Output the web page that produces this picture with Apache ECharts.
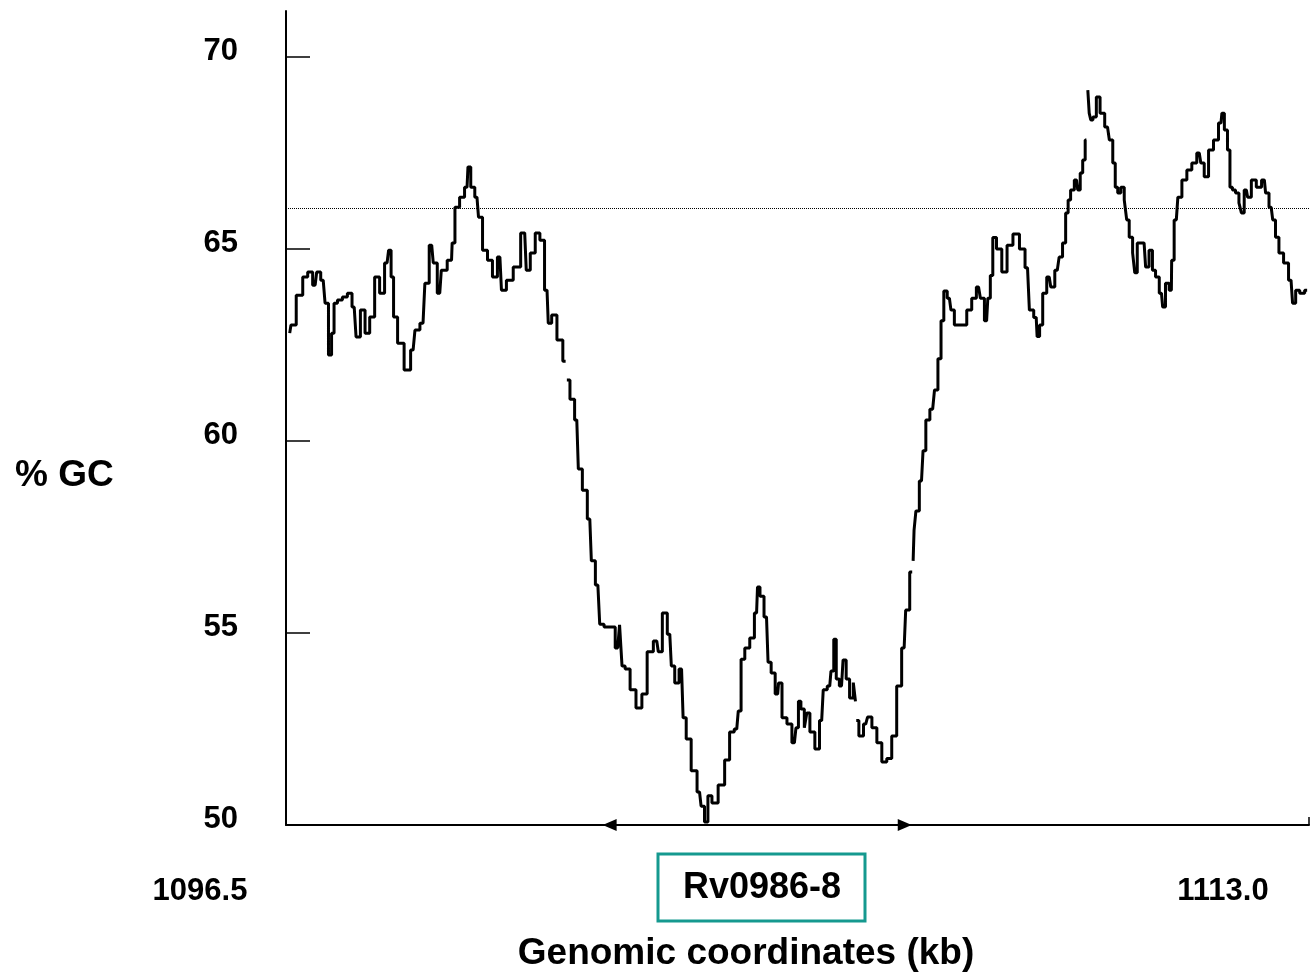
<!DOCTYPE html>
<html>
<head>
<meta charset="utf-8">
<title>% GC — Rv0986-8</title>
<script src="https://cdn.jsdelivr.net/npm/echarts@6/dist/echarts.min.js"></script>
<style>
  html, body { margin: 0; padding: 0; background: #fff; }
  #chartGC { width: 1310px; height: 976px; }
</style>
</head>
<body>
<div id="chartGC"></div>
<script>
/* ============================================================
   GC 含量滑动窗口曲线 — Rv0986-8 区域
   ============================================================ */

// ---- 数据（kb 坐标 / %GC，null = 曲线断开） ----
var positionKb = [
  1096.56, 1096.60, 1096.73, 1096.81, 1096.89, 1096.97, 1097.02, 1097.10, 1097.16, 1097.21,
  1097.26, 1097.29, 1097.37, 1097.45, 1097.53, 1097.60, 1097.66, 1097.74, 1097.81, 1097.89,
  1097.97, 1098.05, 1098.13, 1098.18, 1098.21, 1098.26, 1098.34, 1098.47, 1098.55, 1098.61,
  1098.71, 1098.77, 1098.85, 1098.90, 1098.98, 1099.03, 1099.17, 1099.19, 1099.26, 1099.34,
  1099.42, 1099.45, 1099.51, 1099.58, 1099.63, 1099.71, 1099.79, 1099.87, 1099.95, 1100.00,
  1100.11, 1100.22, 1100.35, 1100.40, 1100.48, 1100.56, 1100.63, 1100.71, 1100.75, 1100.82,
  1100.92, 1101.01, 1101.02, 1101.04, 1101.12, 1101.19, 1101.24, 1101.32, 1101.40, 1101.45,
  1101.53, 1101.59, 1101.67, 1101.77, 1101.85, 1101.91, 1101.93, 1102.01, 1102.09, 1102.20,
  1102.28, 1102.37, 1102.48, 1102.53, 1102.61, 1102.69, 1102.74, 1102.80, 1102.88, 1102.93,
  1102.98, 1103.09, 1103.17, 1103.22, 1103.28, 1103.33, 1103.41, 1103.53, 1103.62, 1103.69,
  1103.77, 1103.82, 1103.86, 1103.94, 1104.02, 1104.09, 1104.12, 1104.17, 1104.25, 1104.30,
  1104.35, 1104.43, 1104.46, 1104.54, 1104.62, 1104.70, 1104.75, 1104.78, 1104.83, 1104.89,
  1104.91, 1104.99, 1105.07, 1105.14, 1105.19, 1105.27, 1105.31, 1105.36, 1105.39, 1105.46,
  1105.51, 1105.56, 1105.62, 1105.68, 1105.69, 1105.695, 1105.70, 1105.78, 1105.85, 1105.91,
  1105.99, 1106.07, 1106.15, 1106.23, 1106.31, 1106.39, 1106.47, 1106.52, 1106.60, 1106.61,
  1106.62, 1106.64, 1106.68, 1106.75, 1106.80, 1106.84, 1106.93, 1106.99, 1107.04, 1107.09,
  1107.13, 1107.20, 1107.25, 1107.31, 1107.44, 1107.52, 1107.60, 1107.67, 1107.73, 1107.80,
  1107.84, 1107.88, 1107.92, 1108.00, 1108.09, 1108.17, 1108.28, 1108.38, 1108.46, 1108.52,
  1108.60, 1108.63, 1108.68, 1108.73, 1108.81, 1108.86, 1108.94, 1109.00, 1109.05, 1109.10,
  1109.13, 1109.18, 1109.25, 1109.29, 1109.33, 1109.37, 1109.41, 1109.425, 1109.44, 1109.47,
  1109.49, 1109.54, 1109.60, 1109.66, 1109.75, 1109.81, 1109.86, 1109.89, 1109.94, 1109.99,
  1110.05, 1110.07, 1110.13, 1110.18, 1110.20, 1110.26, 1110.34, 1110.39, 1110.45, 1110.50,
  1110.55, 1110.62, 1110.66, 1110.71, 1110.78, 1110.79, 1110.86, 1110.91, 1110.99, 1111.07,
  1111.15, 1111.23, 1111.28, 1111.34, 1111.42, 1111.50, 1111.58, 1111.61, 1111.66, 1111.71,
  1111.74, 1111.79, 1111.84, 1111.90, 1111.92, 1111.99, 1112.03, 1112.11, 1112.19, 1112.28,
  1112.32, 1112.39, 1112.44, 1112.48, 1112.55, 1112.63, 1112.71, 1112.76, 1112.81, 1112.89,
  1112.97
];
var gcPercent = [
  62.81, 63.02, 63.80, 64.27, 64.40, 64.06, 64.40, 64.19, 63.59, 62.24,
  62.81, 63.59, 63.67, 63.75, 63.85, 63.49, 62.71, 63.41, 62.81, 63.23,
  64.27, 63.85, 64.64, 64.97, 64.27, 63.23, 62.55, 61.85, 62.37, 62.89,
  63.07, 64.11, 65.10, 64.64, 63.85, 64.45, 64.71, 65.16, 66.09, 66.35,
  66.61, 67.14, 66.61, 66.35, 65.83, 64.97, 64.71, 64.27, 64.79, 63.93,
  64.19, 64.53, 65.42, 64.45, 64.90, 65.42, 65.23, 63.93, 63.07, 63.28,
  62.63, 62.08, null, 61.59, 61.09, 60.55, 59.27, 58.72, 57.97, 56.88,
  56.25, 55.23, 55.16, 55.16, 54.61, 55.21, 54.14, 54.06, 53.52, 53.05,
  53.41, 54.51, 54.79, 54.51, 55.52, 54.97, 54.14, 53.70, 54.06, 52.79,
  52.24, 51.41, 50.86, 50.49, 50.08, 50.76, 50.57, 51.04, 51.69, 52.42,
  52.50, 52.97, 54.32, 54.61, 54.87, 55.52, 56.20, 55.96, 55.42, 54.24,
  53.96, 53.41, 53.70, 52.79, 52.63, 52.14, 52.53, 53.22, 53.02, 52.53,
  52.92, 52.42, 51.98, 52.72, 53.52, 53.62, 54.01, 54.84, 53.80, 53.62,
  54.30, 53.80, 53.31, 53.71, 53.22, null, 52.72, 52.32, 52.63, 52.81,
  52.53, 52.14, 51.64, 51.73, 52.32, 53.62, 54.61, 55.60, 56.59, null,
  56.88, 57.68, 58.18, 58.96, 59.75, 60.55, 60.83, 61.33, 62.14, 63.13,
  63.91, 63.72, 63.41, 63.02, 63.02, 63.41, 63.72, 64.01, 63.72, 63.13,
  63.72, 64.31, 65.30, 65.00, 64.40, 65.10, 65.39, 65.00, 64.51, 63.41,
  63.22, 62.72, 63.02, 63.85, 64.27, 64.01, 64.45, 64.79, 65.16, 65.94,
  66.28, 66.54, 66.80, 66.54, 66.98, 67.32, 67.84, null, 69.14, 68.54,
  68.36, 68.44, 68.96, 68.54, 68.18, 67.84, 67.24, 66.61, 66.46, 66.61,
  66.28, 65.76, 65.31, 64.90, 64.38, 65.16, 65.16, 64.53, 64.97, 64.45,
  64.27, 63.85, 63.49, 64.11, 63.93, 64.71, 65.76, 66.35, 66.80, 67.06,
  67.24, 67.50, 67.24, 66.88, 67.58, 67.84, 68.28, 68.54, 68.10, 67.58,
  66.61, 66.54, 66.46, 66.20, 65.94, 66.54, 66.35, 66.80, 66.61, 66.80,
  66.46, 66.09, 65.76, 65.31, 64.90, 64.64, 64.19, 63.59, 63.93, 63.85,
  63.93
];

// ---- 坐标轴与注释 ----
var yTickValues   = [50, 55, 60, 65, 70];
var xTickValues   = [1096.5, 1113.0];
var genomeMeanGC  = 66.07;                 // 点线：基因组平均 GC
var geneSpanKb    = [1101.72, 1106.48];    // 双箭头：Rv0986-8 区段
var geneLabel     = "Rv0986-8";
var xAxisTitle    = "Genomic coordinates (kb)";
var yAxisTitle    = "% GC";

var FONT = "'Liberation Sans', Arial, Helvetica, sans-serif";

function initGCChart() {
  var dom = document.getElementById("chartGC");
  var chart = echarts.init(dom, null, { renderer: "canvas" });

  var seriesData = positionKb.map(function(x, i) {
    var v = gcPercent[i];
    return [x, v === null ? "-" : v];
  });

  chart.setOption({
    animation: false,
    backgroundColor: "#fff",
    grid: { left: 286, right: 1, top: 11, bottom: 151, outerBoundsMode: "none", containLabel: false },
    xAxis: {
      type: "value",
      min: 1096.5,
      max: 1113.0,
      axisLine: { show: true, onZero: false, lineStyle: { color: "#000", width: 2 } },
      axisTick: { show: true, inside: true, length: 8, customValues: xTickValues, lineStyle: { color: "#000", width: 1.5 } },
      splitLine: { show: false },
      axisLabel: {
        customValues: xTickValues,
        formatter: function(v) { return "{t|" + v.toFixed(1) + "}"; },
        margin: 51,
        rich: {
          t: { color: "#000", fontFamily: FONT, fontWeight: "bold", fontSize: 31, padding: [0, 172, 0, 0] }
        }
      }
    },
    yAxis: {
      type: "value",
      min: 50,
      max: 71.2,
      interval: 5,
      axisLine: { show: true, lineStyle: { color: "#000", width: 2 } },
      axisTick: { show: true, inside: true, length: 24, customValues: yTickValues, lineStyle: { color: "#000", width: 1.5 } },
      splitLine: { show: false },
      axisLabel: {
        customValues: yTickValues,
        formatter: function(v) { return "{t|" + v + "}"; },
        margin: 48,
        rich: {
          t: { color: "#000", fontFamily: FONT, fontWeight: "bold", fontSize: 31, padding: [0, 0, 12, 0] }
        }
      }
    },
    series: [{
      type: "line",
      data: seriesData,
      step: "middle",
      connectNulls: false,
      showSymbol: false,
      silent: true,
      lineStyle: { color: "#000", width: 3 },
      markLine: {
        silent: true,
        animation: false,
        label: { show: false },
        data: [
          [
            { coord: [1096.5, genomeMeanGC], symbol: "none" },
            { coord: [1113.0, genomeMeanGC], symbol: "none" }
          ],
          [
            { coord: [geneSpanKb[0], 50], symbol: "triangle", symbolSize: [12, 14],
              lineStyle: { type: "solid", width: 2, color: "#000" } },
            { coord: [geneSpanKb[1], 50], symbol: "triangle", symbolSize: [12, 14] }
          ]
        ],
        lineStyle: { color: "#000", width: 1, type: "dotted" },
        itemStyle: { color: "#000" }
      }
    }],
    graphic: [
      {
        type: "text", left: 15, top: 457,
        style: { text: yAxisTitle, fill: "#000", font: "bold 37px " + FONT }
      },
      {
        type: "text", x: 746, y: 954,
        style: { text: xAxisTitle, fill: "#000", font: "bold 37px " + FONT, align: "center", verticalAlign: "middle" }
      },
      {
        type: "rect", shape: { x: 658, y: 854, width: 207, height: 67 },
        style: { fill: "none", stroke: "#15998f", lineWidth: 3 }
      },
      {
        type: "text", x: 762, y: 888,
        style: { text: geneLabel, fill: "#000", font: "bold 36px " + FONT, align: "center", verticalAlign: "middle" }
      }
    ]
  });
  return chart;
}

initGCChart();
</script>
</body>
</html>
